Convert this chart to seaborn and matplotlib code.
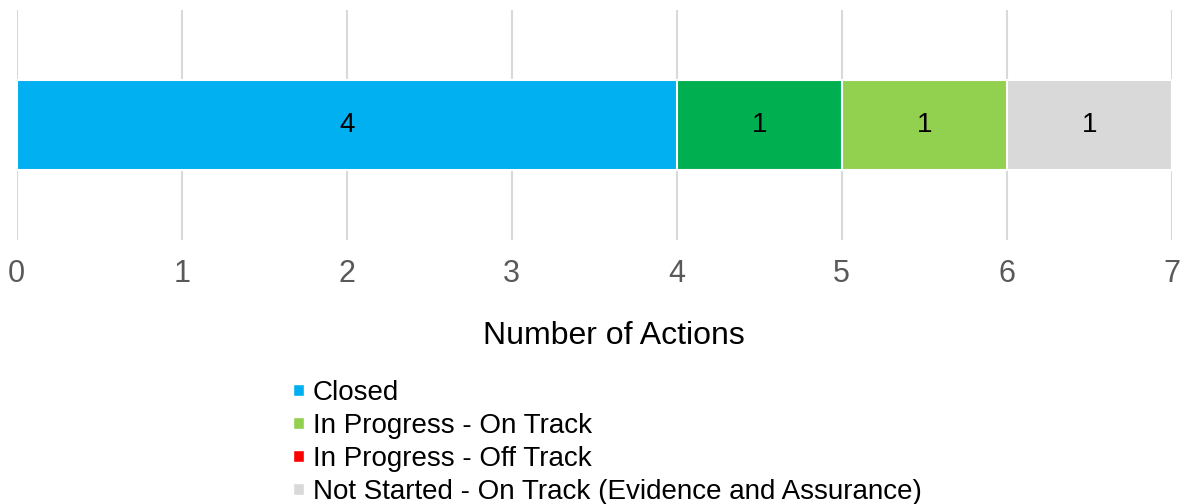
import pandas as pd
import seaborn as sns
import matplotlib.pyplot as plt
from matplotlib.patches import Patch

# Bar segments, left to right
segments = ["Closed", "Completed", "In Progress - On Track",
            "In Progress - Off Track", "Not Started - On Track (Evidence and Assurance)"]
counts = [4, 1, 1, 0, 1]
colours = ["#00B0F0", "#00B050", "#92D050", "#FF0000", "#D9D9D9"]

# Entries shown in the legend
legend_items = ["Closed", "In Progress - On Track", "In Progress - Off Track",
                "Not Started - On Track (Evidence and Assurance)"]
x_ticks = [0, 1, 2, 3, 4, 5, 6, 7]

sns.set_theme(style="white")
plt.rcParams["font.family"] = ["Liberation Sans", "DejaVu Sans"]

df = pd.DataFrame({"status": segments, "count": counts, "colour": colours})
df["end"] = df["count"].cumsum()
df["mid"] = df["end"] - df["count"] / 2

fig = plt.figure(figsize=(11.84, 5.04), dpi=100)
ax = fig.add_axes([16.7 / 1184, 1 - 240 / 504, (1171.7 - 16.7) / 1184, 230 / 504])

# stacked bar: draw cumulative totals from the longest down
for _, row in df[::-1].iterrows():
    if row["count"] == 0:
        continue
    sns.barplot(x=[row["end"]], y=[""], orient="h", color=row["colour"],
                width=0.391, edgecolor="white", linewidth=1.5,
                saturation=1, ax=ax)

for _, row in df.iterrows():
    if row["count"] > 0:
        ax.text(row["mid"], 0, str(row["count"]), ha="center", va="center",
                fontsize=20, color="black")

ax.set_xlim(0, 7)
ax.set_ylim(0.5, -0.5)
ax.set_xticks(x_ticks)
ax.set_yticks([])
ax.set_ylabel("")
ax.grid(axis="x", color="#D9D9D9", linewidth=1.5)
ax.set_axisbelow(True)
for s in ax.spines.values():
    s.set_visible(False)
ax.tick_params(axis="x", labelsize=22, labelcolor="#595959", length=0, pad=14)
ax.set_xlabel("Number of Actions", fontsize=23, color="black", labelpad=23, x=0.517)

handles = [Patch(facecolor=df.loc[df["status"] == s, "colour"].iloc[0]) for s in legend_items]
fig.legend(handles, legend_items, loc="upper left",
           bbox_to_anchor=(293 / 1184, 1 - 380 / 504), frameon=False,
           fontsize=20, handlelength=0.38, handleheight=0.27,
           handletextpad=0.34, labelspacing=0.25, borderpad=0, borderaxespad=0,
           labelcolor="black")

fig.savefig("out.png", dpi=100)
